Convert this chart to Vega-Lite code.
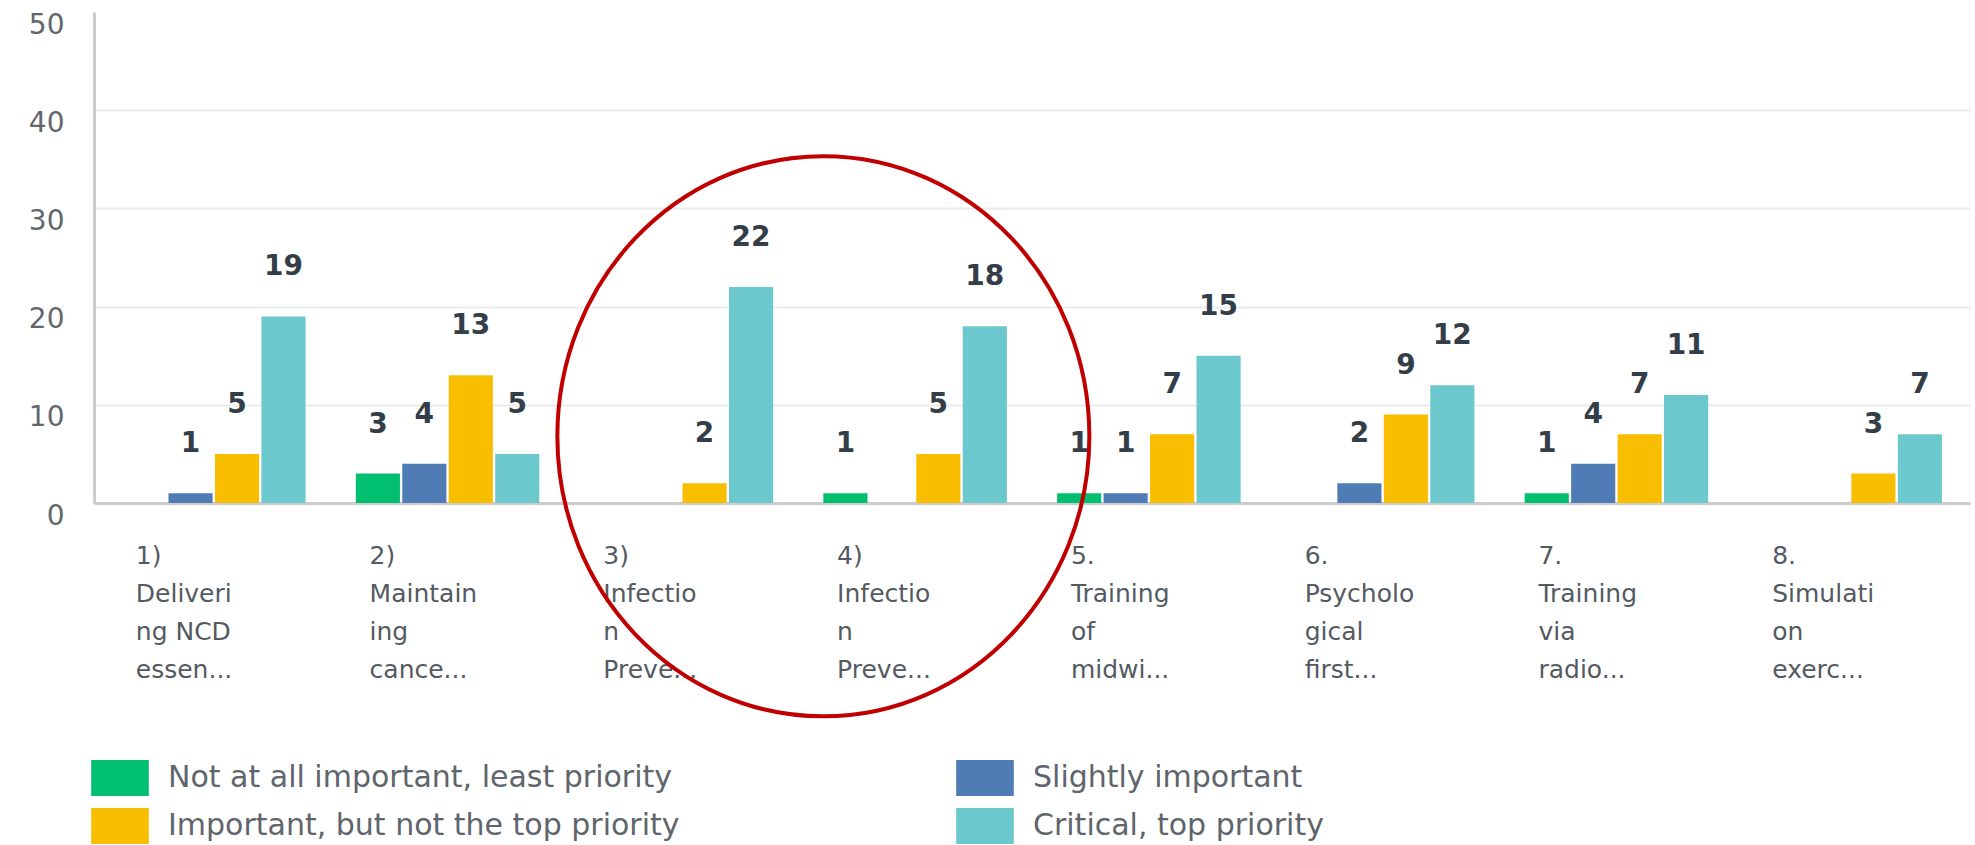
{
  "$schema": "https://vega.github.io/schema/vega-lite/v6.json",
  "width": 1876,
  "height": 491,
  "autosize": {"type": "none"},
  "padding": {"left": 94, "top": 12, "right": 5, "bottom": 342},
  "background": "white",
  "datasets": {
    "counts": [
      {"task": "1)\nDeliveri\nng NCD\nessen...", "priority": "Slightly important", "count": 1},
      {"task": "1)\nDeliveri\nng NCD\nessen...", "priority": "Important, but not the top priority", "count": 5},
      {"task": "1)\nDeliveri\nng NCD\nessen...", "priority": "Critical, top priority", "count": 19},
      {"task": "2)\nMaintain\ning\ncance...", "priority": "Not at all important, least priority", "count": 3},
      {"task": "2)\nMaintain\ning\ncance...", "priority": "Slightly important", "count": 4},
      {"task": "2)\nMaintain\ning\ncance...", "priority": "Important, but not the top priority", "count": 13},
      {"task": "2)\nMaintain\ning\ncance...", "priority": "Critical, top priority", "count": 5},
      {"task": "3)\nInfectio\nn\nPreve...", "priority": "Important, but not the top priority", "count": 2},
      {"task": "3)\nInfectio\nn\nPreve...", "priority": "Critical, top priority", "count": 22},
      {"task": "4)\nInfectio\nn\nPreve... ", "priority": "Not at all important, least priority", "count": 1},
      {"task": "4)\nInfectio\nn\nPreve... ", "priority": "Important, but not the top priority", "count": 5},
      {"task": "4)\nInfectio\nn\nPreve... ", "priority": "Critical, top priority", "count": 18},
      {"task": "5.\nTraining\nof\nmidwi...", "priority": "Not at all important, least priority", "count": 1},
      {"task": "5.\nTraining\nof\nmidwi...", "priority": "Slightly important", "count": 1},
      {"task": "5.\nTraining\nof\nmidwi...", "priority": "Important, but not the top priority", "count": 7},
      {"task": "5.\nTraining\nof\nmidwi...", "priority": "Critical, top priority", "count": 15},
      {"task": "6.\nPsycholo\ngical\nfirst...", "priority": "Slightly important", "count": 2},
      {"task": "6.\nPsycholo\ngical\nfirst...", "priority": "Important, but not the top priority", "count": 9},
      {"task": "6.\nPsycholo\ngical\nfirst...", "priority": "Critical, top priority", "count": 12},
      {"task": "7.\nTraining\nvia\nradio...", "priority": "Not at all important, least priority", "count": 1},
      {"task": "7.\nTraining\nvia\nradio...", "priority": "Slightly important", "count": 4},
      {"task": "7.\nTraining\nvia\nradio...", "priority": "Important, but not the top priority", "count": 7},
      {"task": "7.\nTraining\nvia\nradio...", "priority": "Critical, top priority", "count": 11},
      {"task": "8.\nSimulati\non\nexerc...", "priority": "Important, but not the top priority", "count": 3},
      {"task": "8.\nSimulati\non\nexerc...", "priority": "Critical, top priority", "count": 7}
    ],
    "highlight": [
      {"task": "4)\nInfectio\nn\nPreve... ", "value": 6.8}
    ]
  },
  "layer": [
    {
      "data": {"name": "counts"},
      "mark": {"type": "bar"},
      "encoding": {
        "x": {
          "field": "task",
          "type": "nominal",
          "sort": null,
          "scale": {"paddingInner": 0.215, "paddingOuter": 0.12},
          "axis": {
            "title": null,
            "labelExpr": "split(datum.label, '\\n')",
            "labelAngle": 0,
            "labelAlign": "left",
            "labelBaseline": "top",
            "labelOffset": -78,
            "labelPadding": 40,
            "labelLineHeight": 38,
            "labelFont": "DejaVu Sans",
            "labelFontSize": 25,
            "labelColor": "#545a61",
            "labelLimit": 0,
            "ticks": false,
            "domainColor": "#cccccc",
            "domainWidth": 3,
            "grid": false
          }
        },
        "xOffset": {
          "field": "priority",
          "type": "nominal",
          "scale": {
            "domain": ["Not at all important, least priority", "Slightly important", "Important, but not the top priority", "Critical, top priority"],
            "paddingInner": 0.05,
            "paddingOuter": 0
          }
        },
        "y": {
          "field": "count",
          "type": "quantitative",
          "scale": {"domain": [0, 50], "nice": false},
          "axis": {
            "title": null,
            "values": [0, 10, 20, 30, 40, 50],
            "ticks": false,
            "domainColor": "#cccccc",
            "domainWidth": 3,
            "gridColor": "#ebebeb",
            "gridWidth": 2,
            "gridOpacity": {"condition": {"test": "datum.value == 50 || datum.value == 0", "value": 0}, "value": 1},
            "labelFont": "DejaVu Sans",
            "labelFontSize": 28,
            "labelColor": "#62676e",
            "labelPadding": 30,
            "labelOffset": 13
          }
        },
        "color": {
          "field": "priority",
          "type": "nominal",
          "scale": {
            "domain": ["Not at all important, least priority", "Slightly important", "Important, but not the top priority", "Critical, top priority"],
            "range": ["#00bf6f", "#507cb6", "#f9be00", "#6bc8cd"]
          },
          "legend": {
            "title": null,
            "orient": "none",
            "legendX": 8,
            "legendY": 748,
            "columns": 2,
            "direction": "horizontal",
            "padding": 0,
            "symbolType": "M-1.6,-1 L1.6,-1 L1.6,1 L-1.6,1 Z",
            "symbolSize": 1296,
            "symbolStrokeWidth": 0,
            "symbolOpacity": 1,
            "labelFont": "DejaVu Sans",
            "labelFontSize": 30,
            "labelColor": "#5f656c",
            "labelOffset": 30,
            "labelLimit": 0,
            "rowPadding": 12,
            "columnPadding": 276
          }
        }
      }
    },
    {
      "data": {"name": "counts"},
      "mark": {"type": "text", "baseline": "middle", "align": "center", "dy": -49, "font": "DejaVu Sans", "fontSize": 28, "fontWeight": "bold", "color": "#333e48"},
      "encoding": {
        "x": {"field": "task", "type": "nominal", "sort": null},
        "xOffset": {"field": "priority", "type": "nominal"},
        "y": {"field": "count", "type": "quantitative"},
        "text": {"field": "count", "type": "quantitative"}
      }
    },
    {
      "data": {"name": "highlight"},
      "mark": {"type": "point", "shape": "M-1,0 A1,1.053 0 1,0 1,0 A1,1.053 0 1,0 -1,0 Z", "size": 283024, "filled": false, "stroke": "#c00000", "strokeWidth": 4, "opacity": 1},
      "encoding": {
        "x": {"field": "task", "type": "nominal", "sort": null, "bandPosition": 0},
        "y": {"field": "value", "type": "quantitative"}
      }
    }
  ],
  "config": {
    "view": {"stroke": null},
    "font": "DejaVu Sans"
  }
}
